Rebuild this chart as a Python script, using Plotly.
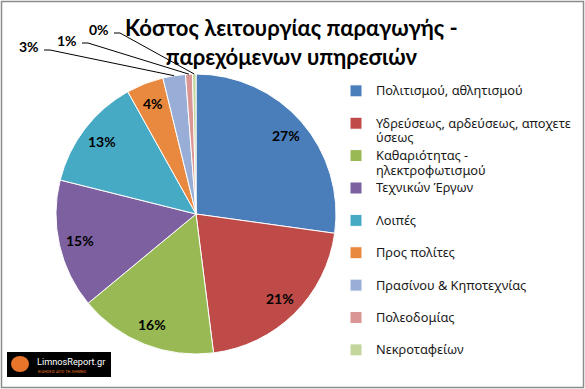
import math
import plotly.graph_objects as go

# ---------------- data ----------------
categories = [
    "Πολιτισμού, αθλητισμού",
    "Υδρεύσεως, αρδεύσεως, αποχετεύσεως",
    "Καθαριότητας - ηλεκτροφωτισμού",
    "Τεχνικών Έργων",
    "Λοιπές",
    "Προς πολίτες",
    "Πρασίνου & Κηποτεχνίας",
    "Πολεοδομίας",
    "Νεκροταφείων",
]
legend_text = [
    "Πολιτισμού, αθλητισμού",
    "Υδρεύσεως, αρδεύσεως, αποχετε<br>ύσεως",
    "Καθαριότητας -<br>ηλεκτροφωτισμού",
    "Τεχνικών Έργων",
    "Λοιπές",
    "Προς πολίτες",
    "Πρασίνου & Κηποτεχνίας",
    "Πολεοδομίας",
    "Νεκροταφείων",
]
values = [27.2, 20.8, 16.0, 14.9, 13.0, 4.3, 2.6, 0.8, 0.4]
colors = ["#4A7EBB", "#BE4B48", "#98B954", "#7D60A0", "#46AAC5",
          "#E8893F", "#98AED6", "#D99694", "#C3D69B"]
title_lines = ["Κόστος λειτουργίας παραγωγής -", "παρεχόμενων υπηρεσιών"]

# ---------------- layout constants ----------------
W, H = 585, 389
CX, CY, R = 196, 214, 140          # pie centre / radius in pixels
LABEL_R = 0.85                      # radial position of inside labels
FONT = "Lato, 'Noto Sans', sans-serif"
LEG_FONT = "'Noto Sans', sans-serif"
inside_idx = [0, 1, 2, 3, 4, 5]
# elbow points (pixels) for the outside labels of the small slices
elbows = {6: (44, 50), 7: (82, 43), 8: (114, 33)}

def px(x):
    return x / W

def py(y):
    return 1 - y / H

# two-line legend entries give uniform spacing like the original;
# glyphs slightly larger than the line-height font
leg_labels = []
for t in legend_text:
    t = t if "<br>" in t else t + "<br> "
    leg_labels.append("<br>".join('<span style="font-size:12.8px">%s</span>' % s
                                  for s in t.split("<br>")))

fig = go.Figure()
fig.add_trace(go.Pie(
    labels=leg_labels,
    values=values,
    sort=False,
    direction="clockwise",
    rotation=0,
    marker=dict(colors=colors, line=dict(color="white", width=1)),
    textinfo="none",
    domain=dict(x=[px(CX - R), px(CX + R)], y=[py(CY + R), py(CY - R)]),
    hovertext=categories,
    hoverinfo="text+percent",
))

# data labels, positions derived from the values
total = sum(values)
cum = 0.0
for i, v in enumerate(values):
    mid = (cum + v / 2) / total
    cum += v
    th = 2 * math.pi * mid
    label = "<b>%d%%</b>" % round(100 * v / total)
    if i in inside_idx:
        lx = CX + LABEL_R * R * math.sin(th)
        ly = CY - LABEL_R * R * math.cos(th)
        fig.add_annotation(xref="paper", yref="paper", x=px(lx), y=py(ly),
                           xanchor="center", yanchor="middle", showarrow=False,
                           text=label,
                           font=dict(family=FONT, size=14, color="black"))
    elif i in elbows:
        ex, ey = CX + R * math.sin(th), CY - R * math.cos(th)
        bx, by = elbows[i]
        fig.add_shape(type="line", xref="paper", yref="paper",
                      x0=px(ex), y0=py(ey), x1=px(bx + 6), y1=py(by),
                      line=dict(color="black", width=1))
        fig.add_shape(type="line", xref="paper", yref="paper",
                      x0=px(bx + 6), y0=py(by), x1=px(bx), y1=py(by),
                      line=dict(color="black", width=1))
        fig.add_annotation(xref="paper", yref="paper", x=px(bx - 3), y=py(by - 3),
                           xanchor="right", yanchor="middle", showarrow=False,
                           text=label,
                           font=dict(family=FONT, size=14, color="black"))

# title
fig.add_annotation(xref="paper", yref="paper", x=px(291), y=py(42),
                   xanchor="center", yanchor="middle", showarrow=False,
                   text="<b>" + "<br>".join(title_lines) + "</b>",
                   font=dict(family=FONT, size=22, color="black"))

# chart border
fig.add_shape(type="rect", xref="paper", yref="paper",
              x0=px(1.5), y0=py(H - 1.5), x1=px(W - 1.5), y1=py(1.5),
              line=dict(color="#8c8c8c", width=1.5), layer="above")

# logo (LimnosReport.gr)
fig.add_shape(type="rect", xref="paper", yref="paper",
              x0=px(7), y0=py(377), x1=px(111), y1=py(352),
              fillcolor="black", line=dict(width=0))
fig.add_shape(type="circle", xref="paper", yref="paper",
              x0=px(11), y0=py(372), x1=px(29), y1=py(356),
              fillcolor="#E8752A", line=dict(width=0))
fig.add_annotation(xref="paper", yref="paper", x=px(35), y=py(361),
                   xanchor="left", yanchor="middle", showarrow=False,
                   text="LimnosReport.gr",
                   font=dict(family="Roboto, sans-serif", size=9.2, color="white"))
fig.add_annotation(xref="paper", yref="paper", x=px(36), y=py(371),
                   xanchor="left", yanchor="middle", showarrow=False,
                   text="ΕΙΔΗΣΕΙΣ ΑΠΟ ΤΗ ΛΗΜΝΟ",
                   font=dict(family="Roboto, sans-serif", size=4, color="#E8752A"))

fig.update_layout(
    width=W, height=H,
    margin=dict(l=0, r=0, t=0, b=0),
    paper_bgcolor="white",
    showlegend=True,
    legend=dict(x=px(336), y=py(77), xanchor="left", yanchor="top",
                valign="top", font=dict(family=LEG_FONT, size=11.3, color="#1a1a1a"),
                bgcolor="rgba(0,0,0,0)"),
)

fig.write_html(
    "out.html",
    config={"displayModeBar": False},
    post_script="document.body.style.margin='0';document.body.style.overflow='hidden';",
)
